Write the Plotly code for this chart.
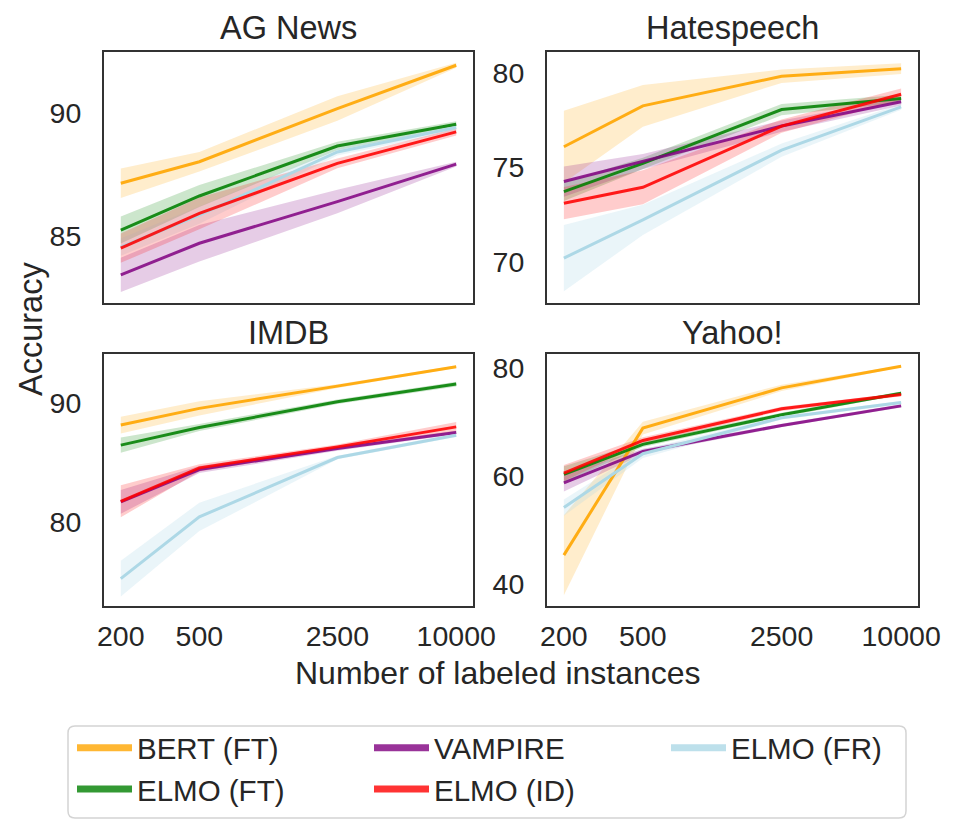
import plotly.graph_objects as go

W, H = 958, 834

# ---------------- data ----------------
n_labeled = [200, 500, 2500, 10000]
tick_vals = [200, 500, 2500, 10000]
tick_text = ["200", "500", "2500", "10000"]

models = ["BERT (FT)", "ELMO (FT)", "VAMPIRE", "ELMO (ID)", "ELMO (FR)"]
colors = ["rgba(255,165,0,0.9)", "rgba(0,128,0,0.88)", "rgba(128,0,128,0.85)",
          "rgba(255,0,0,0.88)", "rgba(173,216,230,1)"]
legend_colors = ["rgba(255,165,0,0.8)", "rgba(0,128,0,0.8)", "rgba(128,0,128,0.8)",
                 "rgba(255,0,0,0.8)", "rgba(173,216,230,0.8)"]
band_colors = ["rgba(255,165,0,0.2)", "rgba(0,128,0,0.2)", "rgba(128,0,128,0.2)",
               "rgba(255,0,0,0.2)", "rgba(173,216,230,0.25)"]

# mean accuracy per model (order = models)
ag_news_mean = [
    [87.15, 88.03, 90.20, 91.97],
    [85.24, 86.63, 88.67, 89.56],
    [83.41, 84.70, 86.40, 87.93],
    [84.50, 85.92, 87.96, 89.25],
    [84.54, 85.85, 88.43, 89.43],
]
ag_news_err = [
    [0.60, 0.40, 0.50, 0.10],
    [0.55, 0.45, 0.17, 0.12],
    [0.70, 0.75, 0.48, 0.10],
    [0.60, 0.65, 0.20, 0.15],
    [0.35, 0.35, 0.15, 0.15],
]
hate_mean = [
    [76.09, 78.25, 79.81, 80.21],
    [73.72, 75.21, 78.05, 78.63],
    [74.25, 75.30, 77.18, 78.46],
    [73.11, 73.95, 77.18, 78.86],
    [70.21, 72.23, 75.91, 78.19],
]
hate_err = [
    [1.90, 1.10, 0.35, 0.28],
    [0.50, 0.30, 0.30, 0.20],
    [0.80, 0.40, 0.30, 0.20],
    [0.85, 0.90, 0.35, 0.30],
    [1.75, 0.80, 0.35, 0.15],
]
imdb_mean = [
    [88.17, 89.58, 91.46, 93.09],
    [86.48, 87.97, 90.14, 91.63],
    [81.69, 84.42, 86.20, 87.55],
    [81.74, 84.56, 86.33, 88.02],
    [75.21, 80.42, 85.43, 87.32],
]
imdb_err = [
    [0.70, 0.60, 0.15, 0.10],
    [0.65, 0.30, 0.20, 0.20],
    [1.00, 0.30, 0.20, 0.15],
    [1.35, 0.30, 0.20, 0.40],
    [1.50, 1.20, 0.15, 0.15],
]
yahoo_mean = [
    [45.35, 68.86, 76.31, 80.31],
    [60.31, 65.85, 71.32, 75.32],
    [58.71, 64.55, 69.35, 72.98],
    [60.55, 66.58, 72.43, 75.08],
    [54.15, 64.12, 70.77, 73.60],
]
yahoo_err = [
    [7.40, 1.20, 0.60, 0.20],
    [1.50, 0.50, 0.40, 0.30],
    [1.60, 0.50, 0.30, 0.30],
    [1.50, 0.60, 0.40, 0.30],
    [1.50, 0.80, 0.30, 0.30],
]

titles = ["AG News", "Hatespeech", "IMDB", "Yahoo!"]
y_ranges = [[82.26, 92.51], [67.84, 81.09], [72.9, 94.17], [35.94, 82.58]]
y_ticks = [[85, 90], [70, 75, 80], [80, 90], [40, 60, 80]]

# ---------------- layout geometry ----------------
FONT = "Liberation Sans, Arial, sans-serif"
TXT = "#262626"
x_domains = [[104 / W, 473 / W], [547 / W, 918 / W], [104 / W, 473 / W], [547 / W, 918 / W]]
top_dom = [1 - 303 / H, 1 - 52 / H]
bot_dom = [1 - 606 / H, 1 - 354 / H]
y_domains = [top_dom, top_dom, bot_dom, bot_dom]

fig = go.Figure()

datasets = [(ag_news_mean, ag_news_err), (hate_mean, hate_err),
            (imdb_mean, imdb_err), (yahoo_mean, yahoo_err)]
draw_order = [0, 1, 2, 4, 3]

for p, (means, errs) in enumerate(datasets):
    xa = "x" if p == 0 else f"x{p + 1}"
    ya = "y" if p == 0 else f"y{p + 1}"
    for m in draw_order:
        mu = means[m]
        er = errs[m]
        upper = [a + b for a, b in zip(mu, er)]
        lower = [a - b for a, b in zip(mu, er)]
        fig.add_trace(go.Scatter(
            x=n_labeled + n_labeled[::-1], y=upper + lower[::-1],
            fill="toself", fillcolor=band_colors[m], mode="lines",
            line=dict(width=0, color=band_colors[m]), hoverinfo="skip",
            showlegend=False, xaxis=xa, yaxis=ya))
    for m in draw_order:
        fig.add_trace(go.Scatter(
            x=n_labeled, y=means[m], mode="lines", name=models[m],
            line=dict(color=colors[m], width=3), showlegend=False,
            xaxis=xa, yaxis=ya))

# legend entries (row-major order to mimic column layout)
for m in [0, 2, 4, 1, 3]:
    fig.add_trace(go.Scatter(x=[None], y=[None], mode="lines", name=models[m],
                             line=dict(color=legend_colors[m], width=7),
                             showlegend=True, xaxis="x", yaxis="y"))

axis_common = dict(showline=True, linecolor="#333333", linewidth=2, mirror=True,
                   showgrid=False, zeroline=False, ticks="",
                   tickfont=dict(size=28.5, family=FONT, color=TXT))
layout = dict(
    width=W, height=H, margin=dict(l=0, r=0, t=0, b=0, autoexpand=False),
    paper_bgcolor="white", plot_bgcolor="white",
    font=dict(family=FONT, color=TXT),
    showlegend=True,
    legend=dict(orientation="h", x=72 / W, y=1 - 722 / H, xanchor="left", yanchor="top",
                borderwidth=0, bgcolor="rgba(0,0,0,0)",
                font=dict(size=29.5, family=FONT, color=TXT),
                entrywidth=227, entrywidthmode="pixels", itemwidth=55,
                tracegroupgap=0, traceorder="normal"),
)
for p in range(4):
    xk = "xaxis" if p == 0 else f"xaxis{p + 1}"
    yk = "yaxis" if p == 0 else f"yaxis{p + 1}"
    xa = dict(axis_common, type="log", range=[2.216, 4.085], domain=x_domains[p],
              tickvals=tick_vals, ticktext=tick_text, showticklabels=(p >= 2),
              ticklabelstandoff=4, anchor="y" if p == 0 else f"y{p + 1}")
    ya = dict(axis_common, range=y_ranges[p], domain=y_domains[p], tickvals=y_ticks[p],
              ticklabelstandoff=15, anchor="x" if p == 0 else f"x{p + 1}")
    layout[xk] = xa
    layout[yk] = ya

annotations = []
title_y = [1 - 28 / H, 1 - 28 / H, 1 - 333 / H, 1 - 333 / H]
for p in range(4):
    annotations.append(dict(text=titles[p], xref="paper", yref="paper",
                            x=sum(x_domains[p]) / 2, y=title_y[p], showarrow=False,
                            xanchor="center", yanchor="middle",
                            font=dict(size=32.5, family=FONT, color=TXT)))
annotations.append(dict(text="Accuracy", xref="paper", yref="paper", x=31 / W, y=1 - 329 / H,
                        textangle=-90, showarrow=False, xanchor="center", yanchor="middle",
                        font=dict(size=32.5, family=FONT, color=TXT)))
annotations.append(dict(text="Number of labeled instances", xref="paper", yref="paper",
                        x=498 / W, y=1 - 673 / H, showarrow=False, xanchor="center",
                        yanchor="middle", font=dict(size=32, family=FONT, color=TXT)))
layout["annotations"] = annotations

# rounded legend frame (68..906 x 726..818 px)
x0, x1, y0, y1, r = 68, 906, 726, 818, 7
def px(x):
    return x / W
def py(y):
    return 1 - y / H
path = (f"M {px(x0 + r)},{py(y0)} L {px(x1 - r)},{py(y0)} "
        f"Q {px(x1)},{py(y0)} {px(x1)},{py(y0 + r)} L {px(x1)},{py(y1 - r)} "
        f"Q {px(x1)},{py(y1)} {px(x1 - r)},{py(y1)} L {px(x0 + r)},{py(y1)} "
        f"Q {px(x0)},{py(y1)} {px(x0)},{py(y1 - r)} L {px(x0)},{py(y0 + r)} "
        f"Q {px(x0)},{py(y0)} {px(x0 + r)},{py(y0)} Z")
layout["shapes"] = [dict(type="path", path=path, xref="paper", yref="paper",
                         line=dict(color="#d4d4d4", width=1.5),
                         fillcolor="rgba(0,0,0,0)", layer="below")]

fig.update_layout(**layout)
fig.write_html("out.html")
